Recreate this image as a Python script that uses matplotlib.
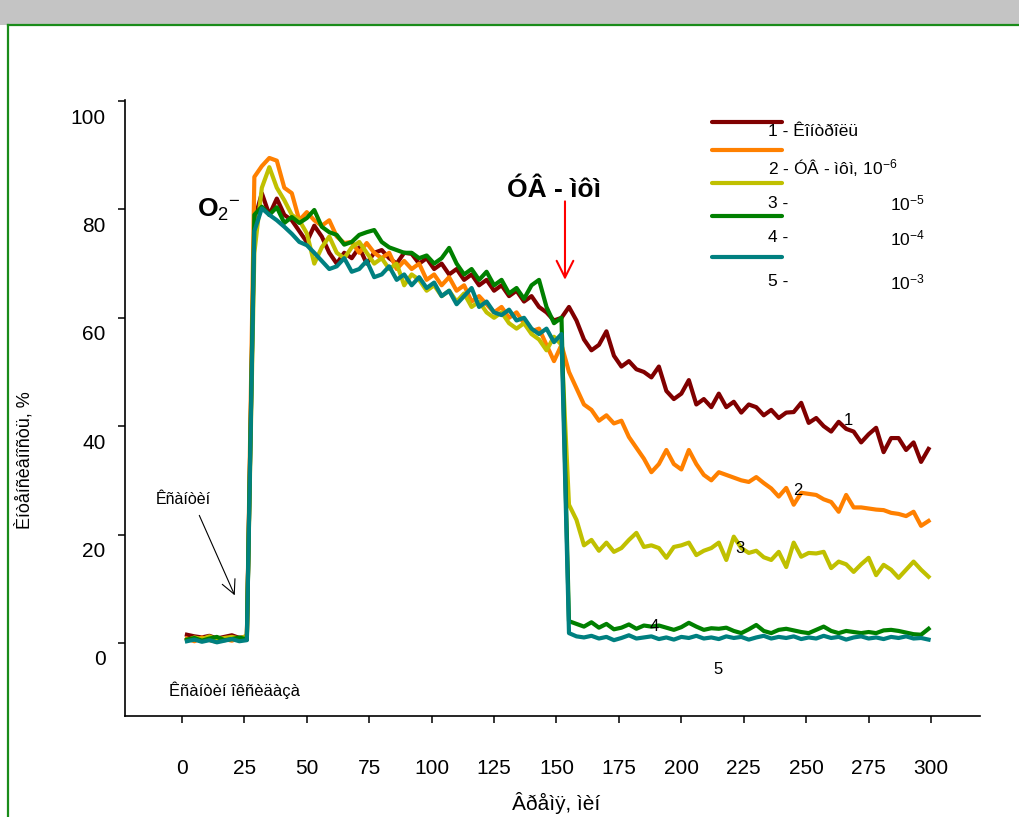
import numpy as np
import matplotlib
matplotlib.use("Agg")
import matplotlib.pyplot as plt
from matplotlib.lines import Line2D
from matplotlib.patches import Rectangle
from matplotlib.transforms import ScaledTranslation

plt.rcParams['font.family'] = ['Liberation Sans', 'DejaVu Sans']
plt.rcParams['mathtext.fontset'] = 'custom'
plt.rcParams['mathtext.rm'] = 'Liberation Sans'
plt.rcParams['mathtext.it'] = 'Liberation Sans'
plt.rcParams['mathtext.bf'] = 'Liberation Sans:bold'

# time points (sampling every 3 units)
t = [2, 5, 8, 11, 14, 17, 20, 23, 26, 29, 32, 35, 38, 41, 44, 47, 50, 53, 56, 59,
     62, 65, 68, 71, 74, 77, 80, 83, 86, 89, 92, 95, 98, 101, 104, 107, 110, 113, 116, 119,
     122, 125, 128, 131, 134, 137, 140, 143, 146, 149, 152, 155, 158, 161, 164, 167, 170, 173, 176, 179,
     182, 185, 188, 191, 194, 197, 200, 203, 206, 209, 212, 215, 218, 221, 224, 227, 230, 233, 236, 239,
     242, 245, 248, 251, 254, 257, 260, 263, 266, 269, 272, 275, 278, 281, 284, 287, 290, 293, 296, 299]

control = [1.5, 1.2, 1.0, 1.3, 0.8, 1.1, 1.4, 0.9, 1.2, 78,
           83, 79, 82, 79, 78, 76, 74, 77, 75, 72,
           70, 72, 71, 73, 70, 72, 72.5, 71, 70, 72,
           71.8, 70, 71, 69, 70, 68, 69, 67, 68, 66,
           67, 65, 66, 64, 65, 63, 64, 62, 61, 59.5,
           60, 62, 59.5, 56, 54, 55, 57.5, 53, 51, 52,
           50.5, 50, 49, 51, 46.5, 45, 46, 48.5, 44, 45,
           43.5, 46, 43.5, 44.5, 42.5, 44, 43.5, 42, 43, 41.5,
           42.5, 42.6, 44.3, 40.6, 41.5, 40, 39, 40.8, 39.5, 39,
           37, 38.5, 39.7, 35.2, 37.8, 37.8, 35.6, 37, 33.4, 35.8]

conc_1e6 = [0.8, 0.3, 1.0, 0.5, 0.2, 0.7, 0.4, 0.9, 0.6, 86,
            88, 89.5, 89, 84, 83, 78, 79.5, 78, 77, 78,
            75, 73.8, 74, 72, 73.8, 72, 71, 72, 69, 70.5,
            69, 70, 67, 68, 66, 67.5, 65, 66, 63, 64,
            62.5, 61, 62, 60, 61, 59, 57.5, 58, 55, 52,
            55, 50, 47, 44, 43, 41, 42, 40.5, 41, 38,
            36, 34, 31.5, 33, 35.6, 33, 32, 35.6, 33, 31,
            30, 31.5, 31, 30.5, 30, 29.7, 30.6, 29.5, 28.5, 27,
            28.6, 25.5, 27.7, 27.5, 27.3, 26.5, 26, 24.2, 27.3, 25,
            25, 24.8, 24.6, 24.5, 24, 23.8, 23.4, 24.2, 21.6, 22.5]

conc_1e5 = [0.5, 1.0, 0.7, 1.2, 0.6, 0.9, 1.1, 0.8, 1.3, 72,
            84, 87.8, 84, 81.7, 79, 78, 75.6, 70, 73, 75,
            72, 71, 73, 74, 72, 70, 71, 69, 70, 66,
            68, 67, 65, 66, 64, 65, 63, 64.5, 62, 63,
            61, 60, 61, 59, 58, 59, 57, 56, 54, 56.5,
            55, 25.5, 22.7, 18, 19, 17, 18.5, 16.8, 17.5, 19,
            20.3, 17.7, 18, 17.5, 15.7, 17.7, 18, 18.5, 16.2, 17,
            17.5, 18.5, 15.3, 19.6, 17.5, 16.6, 17, 15.8, 15.3, 16.8,
            14, 18.5, 15.9, 16.6, 16.5, 16.8, 13.8, 15, 14.5, 13.1,
            14.5, 15.7, 12.5, 14.4, 13.5, 12, 13.5, 15, 13.5, 12.2]

conc_1e4 = [0.6, 0.9, 0.4, 0.8, 1.1, 0.5, 0.7, 1.0, 0.6, 79,
            80.5, 79, 80.4, 77.5, 78.6, 77.5, 78.4, 79.9, 76.8, 75.8,
            75.3, 73.5, 74, 75.3, 75.8, 76.2, 74, 73, 72.5, 72,
            72, 71, 71.5, 70, 71, 72.9, 70, 68, 69, 67,
            68.5, 66, 67, 64.5, 65.5, 63.5, 66, 67, 62, 59,
            60, 4, 3.5, 3, 3.8, 2.8, 3.5, 2.5, 2.8, 3.4,
            2.6, 3.2, 3, 3.2, 2.8, 2.4, 2.9, 3.7, 3, 2.4,
            2.7, 2.6, 2.8, 2.2, 1.8, 2.5, 3.3, 2.2, 1.8, 2.4,
            2.6, 2.3, 2.0, 1.8, 2.4, 3, 2.2, 1.8, 2.2, 2.0,
            1.8, 2.0, 1.8, 2.3, 2.4, 2.2, 1.9, 1.6, 1.5, 2.6]

conc_1e3 = [0.3, 0.6, 0.2, 0.5, 0.1, 0.4, 0.7, 0.3, 0.5, 76,
            80.2, 79, 78, 76.8, 75.5, 74, 73.4, 72, 70.5, 69,
            69.5, 71, 68.5, 69, 70.5, 67.5, 68, 69.5, 67, 68,
            66, 67.5, 65.5, 66.5, 64, 65, 62.5, 64, 65.5, 62,
            63, 61, 60.5, 61.5, 59.5, 60, 58, 57, 58, 55.5,
            57, 1.8, 1.2, 1.0, 1.3, 0.8, 1.1, 0.5, 0.9, 1.4,
            0.8, 1.0, 1.2, 0.7, 1.0, 0.6, 1.1, 0.9, 1.3, 0.8,
            1.0, 0.7, 1.2, 0.9, 1.1, 0.6, 1.0, 1.3, 0.8, 1.1,
            0.9, 1.2, 0.7, 1.0, 0.8, 1.3, 0.9, 1.1, 0.6, 1.0,
            1.2, 0.8, 1.0, 0.7, 1.1, 0.9, 1.2, 0.8, 0.9, 0.6]

series = [control, conc_1e6, conc_1e5, conc_1e4, conc_1e3]
colors = ['#800000', '#ff8000', '#c0c000', '#008000', '#008080']
legend_labels = ['1 - Êîíòðîëü', '2 - ÓÂ - ìôì, 10$^{-6}$', '3 -', '4 -', '5 -']
legend_exps = [None, None, '10$^{-5}$', '10$^{-4}$', '10$^{-3}$']
curve_numbers = ['1', '2', '3', '4', '5']
curve_num_pos = [(266.7, 41), (246.7, 28.2), (223.5, 17.5), (189, 3.0), (214.7, -5.0)]

x_ticks = [0, 25, 50, 75, 100, 125, 150, 175, 200, 225, 250, 275, 300]
y_ticks = [0, 20, 40, 60, 80, 100]

W, H = 1019, 817


def fx(px):
    return px / W


def fy(py):
    return 1 - py / H


fig = plt.figure(figsize=(W / 100, H / 100), dpi=100)

# frame decoration: grey band and green border
fig.add_artist(Rectangle((0, fy(25)), 1, 25 / H, transform=fig.transFigure,
                         facecolor='#c4c4c4', edgecolor='none'))
fig.add_artist(Line2D([fx(8), 1], [fy(25), fy(25)], transform=fig.transFigure,
                      color='#1a8c1a', lw=1.6))
fig.add_artist(Line2D([fx(8), fx(8)], [fy(25), 0], transform=fig.transFigure,
                      color='#1a8c1a', lw=1.6))

ax = fig.add_axes([fx(125), fy(716), fx(980) - fx(125), fy(100) - fy(716)])
ax.set_xlim(-22.8, 319.6)
ax.set_ylim(-13.5, 100.2)

for vals, col in zip(series, colors):
    ax.plot(t, vals, color=col, lw=3.0, solid_joinstyle='round')

for lab, (xx, yy) in zip(curve_numbers, curve_num_pos):
    ax.text(xx, yy, lab, fontsize=12, ha='center', va='center')

ax.spines['top'].set_visible(False)
ax.spines['right'].set_visible(False)
ax.spines['left'].set_linewidth(1.2)
ax.spines['bottom'].set_linewidth(1.2)
ax.set_xticks(x_ticks)
ax.set_yticks(y_ticks)
ax.tick_params(axis='both', direction='out', length=5, width=1.1, labelsize=15)
ax.tick_params(axis='x', pad=26)
ax.tick_params(axis='y', pad=9)
for lbl in ax.get_yticklabels():
    lbl.set_transform(lbl.get_transform() + ScaledTranslation(0, -0.15, fig.dpi_scale_trans))

# annotations
ax.text(15, 80, 'O$_2$$^{-}$', fontsize=19, fontweight='bold', ha='center', va='center')
ax.text(149, 83.5, 'ÓÂ - ìôì', fontsize=19, fontweight='bold', ha='center', va='center')
ax.annotate('', xy=(153.4, 66.5), xytext=(153.4, 82),
            arrowprops=dict(arrowstyle='->', color='red', lw=1.5, mutation_scale=30))
ax.text(0.5, 26.4, 'Êñàíòèí', fontsize=11.5, ha='center', va='center')
ax.annotate('', xy=(21.6, 8.3), xytext=(6.5, 24),
            arrowprops=dict(arrowstyle='->', color='black', lw=0.8, mutation_scale=25))
ax.text(21, -8.7, 'Êñàíòèí îêñèäàçà', fontsize=12, ha='center', va='center')

# legend drawn by hand
line_y = [122, 150, 183, 216, 257]
text_y = [132, 168, 203, 238, 282]
for col, ly, ty, lab, ex in zip(colors, line_y, text_y, legend_labels, legend_exps):
    fig.add_artist(Line2D([fx(712), fx(782)], [fy(ly), fy(ly)], transform=fig.transFigure,
                          color=col, lw=3.0, solid_capstyle='round'))
    fig.text(fx(768), fy(ty), lab, fontsize=12.5, ha='left', va='center')
    if ex is not None:
        fig.text(fx(890), fy(ty), ex, fontsize=12.5, ha='left', va='center')

# axis labels
fig.text(fx(556), fy(803), 'Âðåìÿ, ìèí', fontsize=15, ha='center', va='center')
fig.text(fx(24), fy(460), 'Èíòåíñèâíîñòü, %', fontsize=13, ha='center', va='center',
         rotation=90)

fig.savefig('out.png', dpi=100)
